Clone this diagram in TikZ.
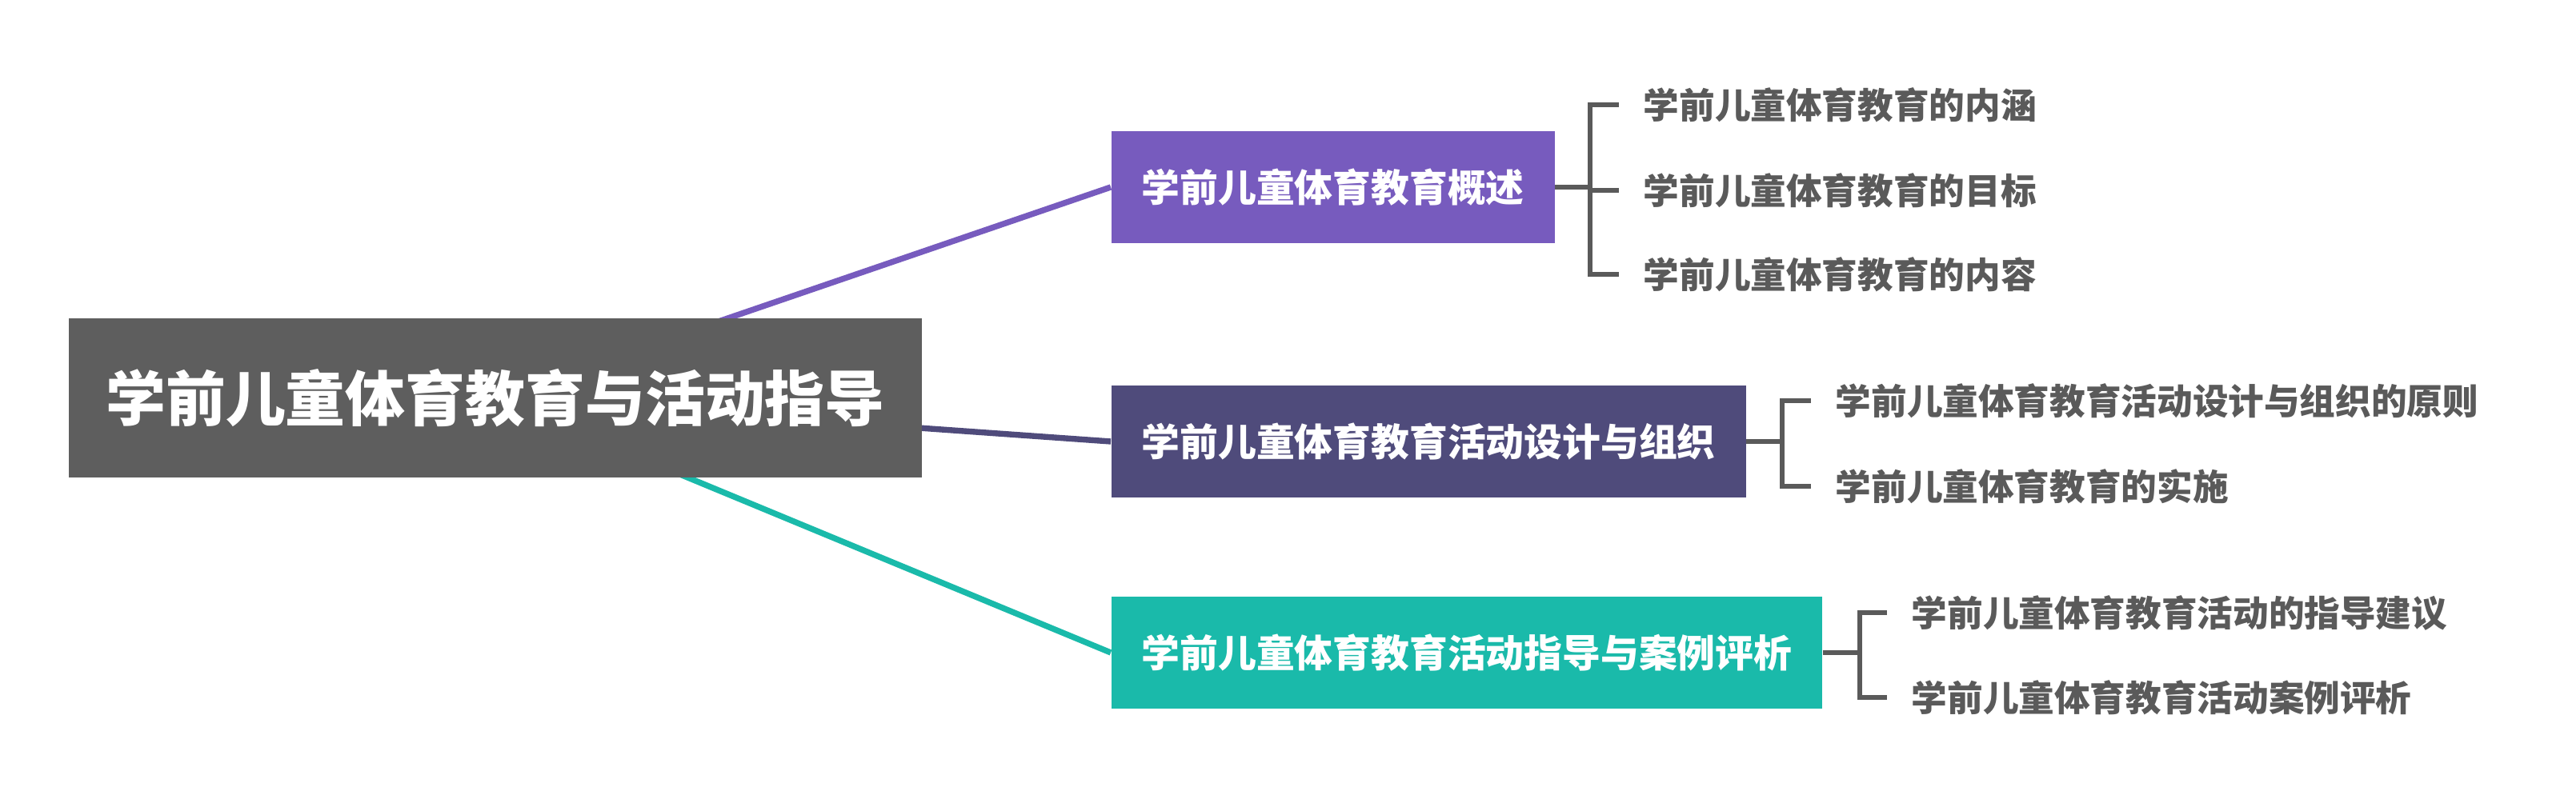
\documentclass[tikz,border=0pt]{standalone}
\usepackage{fontspec}
\newfontfamily\cjk{Noto Sans CJK SC}
\usepackage{tikz}
\usetikzlibrary{positioning,backgrounds,calc}
\definecolor{croot}{HTML}{5E5E5E}
\definecolor{cpurple}{HTML}{775BBE}
\definecolor{cnavy}{HTML}{4F4B7B}
\definecolor{cteal}{HTML}{1ABAAA}
\definecolor{cleaf}{HTML}{5A5A5A}

\begin{document}
\begin{tikzpicture}[
  font=\cjk\bfseries,
  rootbox/.style={fill=croot,text=white,minimum width=10.66cm,minimum height=1.99cm,
                  font=\cjk\bfseries\fontsize{21.3}{24}\selectfont,inner sep=0pt},
  branch/.style={fill=#1,text=white,anchor=west,minimum height=1.4cm,inner xsep=0.38cm,
                 font=\cjk\bfseries\fontsize{13.6}{16}\selectfont},
  leaf/.style={text=cleaf,anchor=west,inner xsep=0.3cm,inner ysep=0pt,
               font=\cjk\bfseries\fontsize{12.7}{15}\selectfont},
  link/.style={line width=2.1pt,#1},
  brace/.style={line width=1.7pt,cleaf}]
  \useasboundingbox (0,0) rectangle (32.19,9.99);
  % root and main branches
  \node[rootbox] (root) at (6.19,5.015) {学前儿童体育教育与活动指导};
  \node[branch=cpurple] (over) at (13.88,7.65) {学前儿童体育教育概述};
  \node[branch=cnavy] (design) at (13.88,4.47) {学前儿童体育教育活动设计与组织};
  \node[branch=cteal] (guide) at (13.88,1.83) {学前儿童体育教育活动指导与案例评析};
  % leaves
  \node[leaf] (o1) at (20.23,8.68) {学前儿童体育教育的内涵};
  \node[leaf] (o2) at (20.23,7.61) {学前儿童体育教育的目标};
  \node[leaf] (o3) at (20.23,6.56) {学前儿童体育教育的内容};
  \node[leaf] (d1) at (22.63,4.98) {学前儿童体育教育活动设计与组织的原则};
  \node[leaf] (d2) at (22.63,3.91) {学前儿童体育教育的实施};
  \node[leaf] (g1) at (23.58,2.33) {学前儿童体育教育活动的指导建议};
  \node[leaf] (g2) at (23.58,1.27) {学前儿童体育教育活动案例评析};
  \begin{scope}[on background layer]
    \fill[white] (0,0) rectangle (32.19,9.99);
    \draw[link=cpurple] (root.center) -- (over.west);
    \draw[link=cnavy] (root.center) -- (design.west);
    \draw[link=cteal] (root.center) -- (guide.west);
  \end{scope}
  % brackets
  \coordinate (ob) at (19.87,0);
  \coordinate (db) at (22.27,0);
  \coordinate (gb) at (23.24,0);
  \draw[brace] (over.east) -- (ob |- over.east);
  \draw[brace] (o1.west) -- (ob |- o1.west) -- (ob |- o3.west) -- (o3.west);
  \draw[brace] (ob |- o2.west) -- (o2.west);
  \draw[brace] (design.east) -- (db |- design.east);
  \draw[brace] (d1.west) -- (db |- d1.west) -- (db |- d2.west) -- (d2.west);
  \draw[brace] (guide.east) -- (gb |- guide.east);
  \draw[brace] (g1.west) -- (gb |- g1.west) -- (gb |- g2.west) -- (g2.west);
\end{tikzpicture}
\end{document}
